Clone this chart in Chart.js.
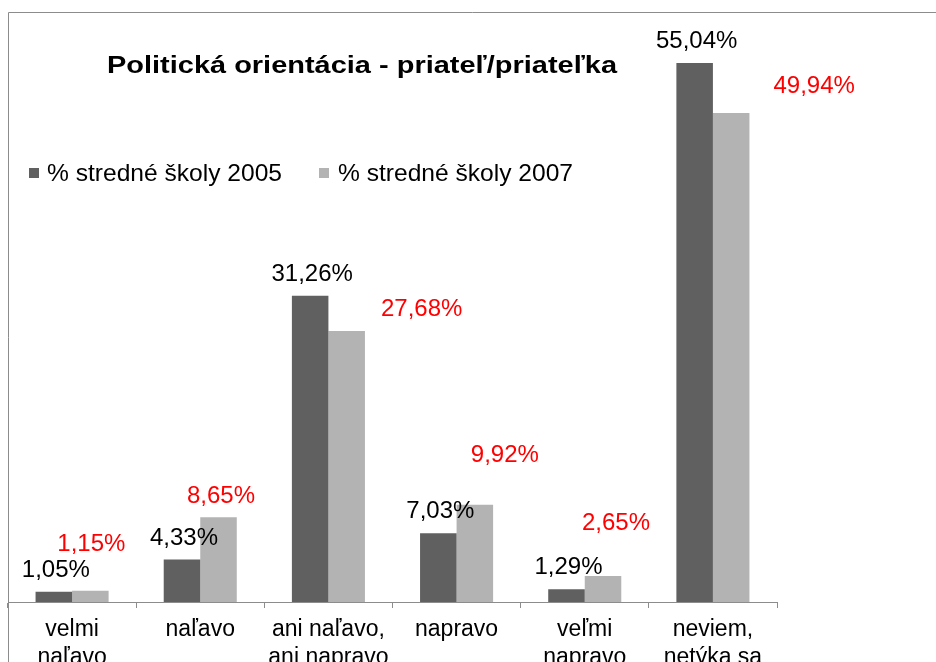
<!DOCTYPE html>
<html><head><meta charset="utf-8">
<script src="https://cdn.jsdelivr.net/npm/chart.js@4/dist/chart.umd.min.js"></script>
<style>html,body{margin:0;padding:0;background:#fff;overflow:hidden}#wrap{width:936px;height:662px;position:relative;overflow:hidden}</style>
</head><body><div id="wrap"><canvas id="c" width="936" height="662"></canvas></div>
<script>
const chartTitle = "Politická orientácia - priateľ/priateľka";
const categories = [["velmi", "naľavo"], "naľavo", ["ani naľavo,", "ani napravo"], "napravo", ["veľmi", "napravo"], ["neviem,", "netýka sa"]];
const seriesNames = ["% stredné školy 2005", "% stredné školy 2007"];
const values2005 = [1.05, 4.33, 31.26, 7.03, 1.29, 55.04];
const values2007 = [1.15, 8.65, 27.68, 9.92, 2.65, 49.94];
const yMin = 0, yMax = 60;

// label placement (style, not data): [dx, dy] relative to bar top centre (baseline)
const darkLabelOffset = [2, -15];
const redLabelOffsets = [[1, -40], [2.5, -14], [75, -15], [30, -43], [13, -46], [83, -20]];

const FONT = "'Liberation Sans', Arial, sans-serif";
const fmt = v => v.toFixed(2).replace('.', ',') + '%';

function stretchedText(ctx, text, x, y, targetWidth) {
  const w = ctx.measureText(text).width;
  const sx = targetWidth / w;
  ctx.save();
  ctx.translate(x, y);
  ctx.scale(sx, 1);
  ctx.fillText(text, 0, 0);
  ctx.restore();
}

const framePlugin = {
  id: 'frame',
  beforeDraw(chart) {
    const ctx = chart.ctx;
    ctx.save();
    ctx.fillStyle = '#fff';
    ctx.fillRect(0, 0, chart.width, chart.height);
    ctx.strokeStyle = '#8c8c8c';
    ctx.lineWidth = 1;
    ctx.beginPath();
    ctx.moveTo(8.5, chart.height);
    ctx.lineTo(8.5, 12.5);
    ctx.lineTo(chart.width, 12.5);
    ctx.stroke();
    ctx.restore();
  },
  afterDraw(chart) {
    const ctx = chart.ctx;
    ctx.save();
    // title
    ctx.fillStyle = '#000';
    ctx.font = 'bold 23px ' + FONT;
    ctx.textAlign = 'left';
    ctx.textBaseline = 'alphabetic';
    stretchedText(ctx, chartTitle, 107, 73, 510);
    // legend
    ctx.font = '24px ' + FONT;
    const items = [{box: 29, text: 47}, {box: 319, text: 338}];
    chart.data.datasets.forEach((ds, i) => {
      ctx.fillStyle = ds.backgroundColor;
      ctx.fillRect(items[i].box, 168, 10, 10);
      ctx.fillStyle = '#000';
      stretchedText(ctx, ds.label, items[i].text, 181, 235);
    });
    ctx.restore();
  },
  afterDatasetsDraw(chart) {
    const ctx = chart.ctx;
    ctx.save();
    ctx.font = '24px ' + FONT;
    ctx.textAlign = 'center';
    ctx.textBaseline = 'alphabetic';
    const m0 = chart.getDatasetMeta(0), m1 = chart.getDatasetMeta(1);
    m0.data.forEach((el, i) => {
      ctx.fillStyle = '#000';
      ctx.fillText(fmt(chart.data.datasets[0].data[i]), el.x + darkLabelOffset[0], el.y + darkLabelOffset[1]);
    });
    m1.data.forEach((el, i) => {
      ctx.fillStyle = '#ff0000';
      const o = redLabelOffsets[i];
      ctx.fillText(fmt(chart.data.datasets[1].data[i]), el.x + o[0], el.y + o[1]);
    });
    ctx.restore();
  }
};

new Chart(document.getElementById('c'), {
  type: 'bar',
  data: {
    labels: categories,
    datasets: [
      {label: seriesNames[0], data: values2005, backgroundColor: '#606060', borderWidth: 0},
      {label: seriesNames[1], data: values2007, backgroundColor: '#b3b3b3', borderWidth: 0}
    ]
  },
  options: {
    responsive: false,
    animation: false,
    devicePixelRatio: 1,
    layout: {padding: {left: 8, right: 159, top: 14.4, bottom: 0}},
    datasets: {bar: {categoryPercentage: 0.57, barPercentage: 1}},
    plugins: {legend: {display: false}, title: {display: false}, tooltip: {enabled: false}},
    scales: {
      x: {
        offset: true,
        grid: {display: true, drawOnChartArea: false, drawTicks: true, tickLength: 6, color: '#8c8c8c', offset: true},
        border: {display: true, color: '#8c8c8c', width: 1},
        ticks: {color: '#000', font: {family: FONT, size: 23, lineHeight: 1.2}, padding: 8, maxRotation: 0, autoSkip: false},
        afterFit(scale) { scale.height = 60; }
      },
      y: {display: false, min: yMin, max: yMax}
    }
  },
  plugins: [framePlugin]
});
</script>
</body></html>
